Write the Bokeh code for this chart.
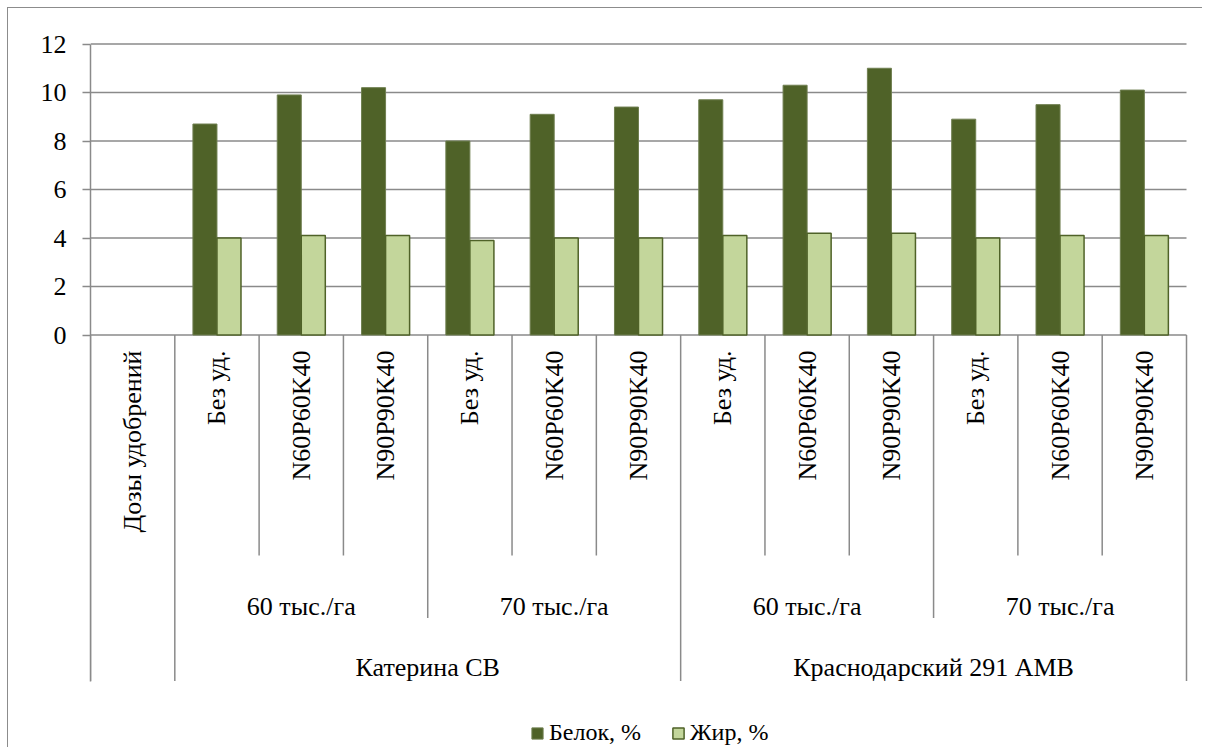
import math
from bokeh.plotting import figure
from bokeh.models import Range1d, FixedTicker, Legend, LegendItem, ColumnDataSource
from bokeh.core.properties import value
from bokeh.embed import file_html
from bokeh.resources import INLINE

# ---------------- data ----------------
fertilizers = ["Дозы удобрений",
               "Без уд.", "N60P60K40", "N90P90K40",
               "Без уд.", "N60P60K40", "N90P90K40",
               "Без уд.", "N60P60K40", "N90P90K40",
               "Без уд.", "N60P60K40", "N90P90K40"]
densities = ["60 тыс./га", "70 тыс./га", "60 тыс./га", "70 тыс./га"]
varieties = ["Катерина СВ", "Краснодарский 291 АМВ"]
protein = [None, 8.7, 9.9, 10.2, 8.0, 9.1, 9.4, 9.7, 10.3, 11.0, 8.9, 9.5, 10.1]
fat = [None, 4.0, 4.1, 4.1, 3.9, 4.0, 4.0, 4.1, 4.2, 4.2, 4.0, 4.1, 4.1]
y_ticks = [0, 2, 4, 6, 8, 10, 12]
series_names = ["Белок, %", "Жир, %"]

# ---------------- layout ----------------
W, H = 1195, 740
B_LEFT, B_RIGHT, B_TOP = 82, 13, 30
n_cat = len(fertilizers)
frame_w = W - B_LEFT - B_RIGHT
frame_h = H - B_TOP
ppx = 1096.0 / n_cat            # px per category
y0_px = 326.5                   # canvas y of value 0
ppy = 291.0 / 12.0              # px per unit
x_end = frame_w / ppx
y_end = (y0_px - B_TOP) / ppy
y_start = -(H - y0_px) / ppy

def depth(px):
    return -px / ppy

LBL1_TOP = depth(15.5)
DIV1 = depth(220.5)
DIV2 = depth(283.0)
DIV3 = depth(346.0)
LBL2_BASE = depth(271.5)
LBL3_BASE = depth(332.5)

FONT = "Liberation Serif"
FS = "26px"
DARK = "#4f6228"
LIGHT = "#c3d69b"
GRID = "#8a8a8a"

p = figure(width=W, height=H, output_backend="svg", toolbar_location=None,
           x_range=Range1d(0, x_end), y_range=Range1d(y_start, y_end),
           x_axis_location=None, min_border_left=B_LEFT, min_border_right=B_RIGHT,
           min_border_top=B_TOP, min_border_bottom=0)
p.outline_line_color = None
p.grid.visible = False
p.background_fill_color = "white"
p.border_fill_color = "white"
p.styles = {"border-left": "1px solid #8c8c8c", "border-top": "1px solid #8c8c8c",
            "margin-left": "7px", "margin-top": "7px"}

# grid lines
p.segment(x0=[0] * len(y_ticks), x1=[n_cat] * len(y_ticks), y0=y_ticks, y1=y_ticks,
          line_color=GRID, line_width=1.5)

# bars
bw = 0.285
idx = [i for i, v in enumerate(protein) if v is not None]
src = ColumnDataSource(dict(
    x1=[i + 0.5 - bw / 2 for i in idx],
    x2=[i + 0.5 + bw / 2 for i in idx],
    prot=[protein[i] for i in idx],
    fat=[fat[i] for i in idx],
))
r1 = p.vbar(x="x1", top="prot", width=bw, bottom=0, source=src,
            fill_color=DARK, line_color="#6f7f50", line_width=1)
r2 = p.vbar(x="x2", top="fat", width=bw, bottom=0, source=src,
            fill_color=LIGHT, line_color=DARK, line_width=1.5)

# category dividers
lvl3_b = [0, 1]
acc = 1
per_var = (n_cat - 1) // len(varieties)
for _ in varieties:
    acc += per_var
    lvl3_b.append(acc)
lvl2_b = [1]
acc = 1
per_den = (n_cat - 1) // len(densities)
for _ in densities:
    acc += per_den
    lvl2_b.append(acc)
dx, dy0, dy1 = [], [], []
for b in range(n_cat + 1):
    if b in lvl3_b:
        d = DIV3
    elif b in lvl2_b:
        d = DIV2
    else:
        d = DIV1
    dx.append(b); dy0.append(0); dy1.append(d)
p.segment(x0=dx, x1=dx, y0=dy0, y1=dy1, line_color=GRID, line_width=1.5)

# level 1 labels (rotated)
p.text(x=[i + 0.5 for i in range(n_cat)], y=[LBL1_TOP] * n_cat, text=fertilizers,
       angle=math.pi / 2, text_align="right", text_baseline="middle",
       text_font=value(FONT), text_font_size=value(FS), text_color="black")
# level 2 labels
p.text(x=[1 + per_den * (k + 0.5) for k in range(len(densities))],
       y=[LBL2_BASE] * len(densities), text=densities,
       text_align="center", text_baseline="alphabetic",
       text_font=value(FONT), text_font_size=value(FS), text_color="black")
# level 3 labels
p.text(x=[1 + per_var * (k + 0.5) for k in range(len(varieties))],
       y=[LBL3_BASE] * len(varieties), text=varieties,
       text_align="center", text_baseline="alphabetic",
       text_font=value(FONT), text_font_size=value(FS), text_color="black")

# y axis
ax = p.yaxis[0]
ax.ticker = FixedTicker(ticks=y_ticks)
ax.bounds = (DIV3, 12)
ax.axis_line_color = GRID
ax.axis_line_width = 1.5
ax.major_tick_line_color = GRID
ax.major_tick_line_width = 1.5
ax.major_tick_in = 0
ax.major_tick_out = 8
ax.minor_tick_line_color = None
ax.major_label_standoff = 16
ax.major_label_text_font = FONT
ax.major_label_text_font_size = FS
ax.major_label_text_color = "black"

# legend
legend = Legend(items=[LegendItem(label=series_names[0], renderers=[r1]),
                       LegendItem(label=series_names[1], renderers=[r2])],
                orientation="horizontal", location=(440, 2),
                glyph_width=14, glyph_height=14, label_standoff=5, spacing=30,
                padding=0, margin=0, border_line_color=None,
                background_fill_alpha=0,
                label_text_font=FONT, label_text_font_size="24px",
                label_text_color="black")
p.add_layout(legend)

open("out.html", "w").write(file_html(p, INLINE))
